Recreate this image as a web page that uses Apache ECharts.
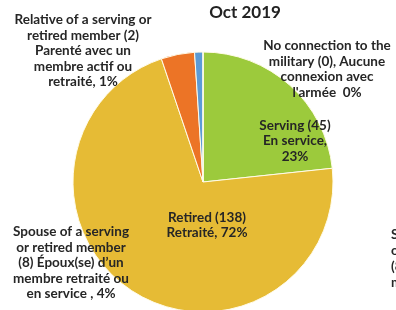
<!DOCTYPE html>
<html>
<head>
<meta charset="utf-8">
<script src="https://cdn.jsdelivr.net/npm/echarts@6/dist/echarts.min.js"></script>
<style>
  html, body { margin: 0; padding: 0; background: #fff; }
  #main { width: 396px; height: 310px; }
</style>
</head>
<body>
<div id="main"></div>
<script>
var categories = ['Serving', 'Retired', 'Spouse', 'Relative', 'No connection'];
var counts = [45, 138, 8, 2, 0];
var labels = [
  'Serving (45)\nEn service,\n23%',
  'Retired (138)\nRetraité, 72%',
  'Spouse of a serving\nor retired member\n(8) Époux(se) d\u2019un\nmembre retraité ou\nen service , 4%',
  'Relative of a serving or\nretired member (2)\nParenté avec un\nmembre actif ou\nretraité, 1%',
  'No connection to the\nmilitary (0), Aucune\nconnexion avec\nl\'armée  0%'
];
var colors = ['#9cca3c', '#e6bb35', '#ec7426', '#5b9bd5', '#a5a5a5'];

// label centres, px
var labelPos = [[295, 141], [207, 225], [71, 263], [83, 51], [327, 69]];

var font = 'Lato, "Open Sans", sans-serif';
var myChart = echarts.init(document.getElementById('main'));
var option = {
  animation: false,
  title: {
    text: 'Oct 2019',
    left: 240,
    top: -1,
    textAlign: 'center',
    textStyle: { fontFamily: font, fontSize: 17, fontWeight: 'bold', color: '#222' }
  },
  graphic: [{
    type: 'text',
    left: 391,
    top: 227,
    style: {
      text: 'Spouse\nor retired\n(8) Époux\nmembre',
      font: 'bold 13.5px ' + font,
      fill: '#262626',
      lineHeight: 16
    }
  }],
  series: [{
    type: 'pie',
    center: [203, 182],
    radius: 130,
    startAngle: 90,
    clockwise: true,
    itemStyle: { borderColor: '#fffbe8', borderWidth: 1 },
    labelLine: { show: false },
    label: {
      show: true,
      fontFamily: font,
      fontSize: 13.5,
      fontWeight: 'bold',
      color: '#262626',
      lineHeight: 15.5,
      align: 'center',
      overflow: 'none',
      formatter: function (p) { return labels[p.dataIndex]; }
    },
    labelLayout: function (p) {
      var pos = labelPos[p.dataIndex];
      return { x: pos[0], y: pos[1], align: 'center', verticalAlign: 'middle' };
    },
    data: categories.map(function (c, i) {
      return { name: c, value: counts[i], itemStyle: { color: colors[i] } };
    })
  }]
};
myChart.setOption(option);
</script>
</body>
</html>
